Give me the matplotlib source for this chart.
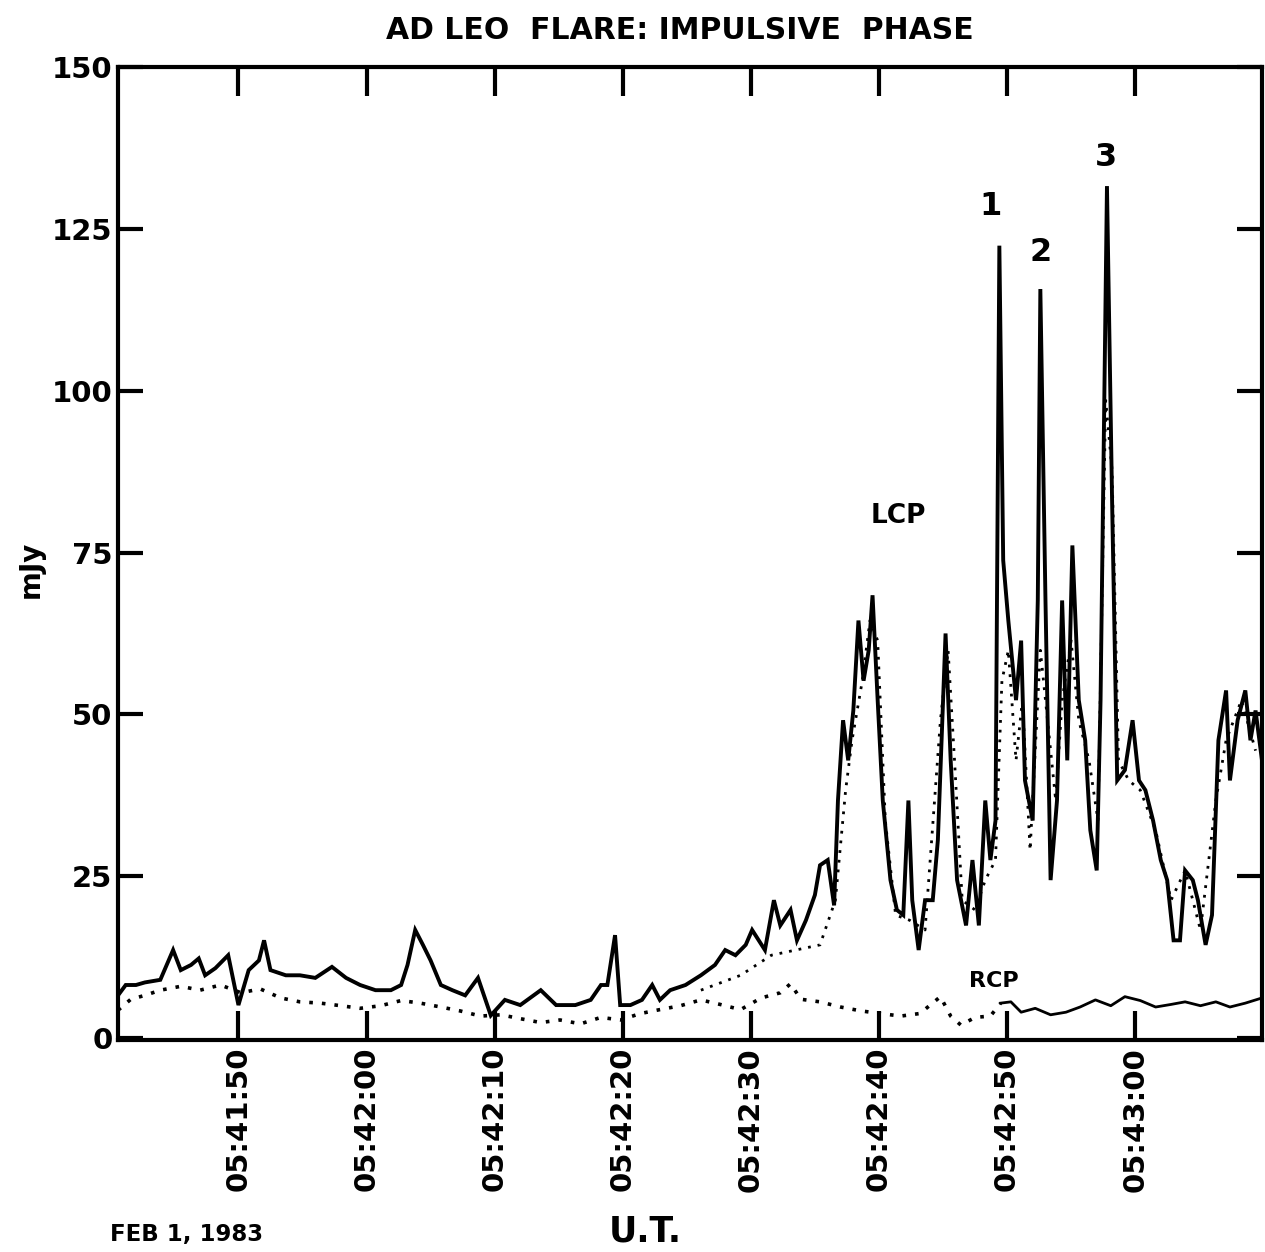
import matplotlib
matplotlib.use('Agg')
import matplotlib.pyplot as plt
from matplotlib.ticker import FuncFormatter

# time in seconds after 05:41:00 U.T., flux in mJy
lcp_t = [40.6, 41.2, 42.0, 42.7, 43.9, 44.9, 45.5, 46.3, 46.9, 47.4, 48.2, 49.2,
         50.0, 50.8, 51.6, 52.0, 52.5, 53.7, 54.8, 56.0, 57.3, 58.4, 59.5, 60.7,
         61.9, 62.7, 63.2, 63.8, 64.4, 65.0, 65.8, 66.7, 67.7, 68.7, 69.7, 70.8,
         72.0, 73.6, 74.8, 76.3, 77.5, 78.3, 78.8, 79.4, 79.8, 80.6, 81.5, 82.3,
         82.9, 83.7, 84.9, 86.1, 87.2, 88.0, 88.8, 89.6, 90.1, 91.1, 91.8, 92.3,
         93.1, 93.6, 94.3, 95.0, 95.4, 96.0, 96.5, 96.8, 97.2, 97.6, 98.0, 98.4,
         98.8, 99.2, 99.5, 99.9, 100.3, 100.9, 101.4, 101.9, 102.3, 102.6, 103.1,
         103.6, 104.2, 104.6, 105.2, 105.6, 106.1, 106.8, 107.3, 107.8, 108.3,
         108.7, 109.1, 109.4, 109.7, 110.1, 110.7, 111.1, 111.4, 112.0, 112.4,
         112.6, 113.0, 113.4, 113.9, 114.3, 114.7, 115.1, 115.6, 116.1, 116.5,
         117.0, 117.3, 117.8, 118.2, 118.6, 119.2, 119.8, 120.3, 120.8, 121.4,
         122.0, 122.5, 123.0, 123.5, 123.9, 124.5, 124.9, 125.5, 126.0, 126.5,
         127.1, 127.4, 128.0, 128.6, 129.0, 129.4, 129.9]
lcp_v = [6.6, 8.2, 8.2, 8.6, 9.0, 13.6, 10.5, 11.3, 12.3, 9.7, 10.8, 12.8,
         5.1, 10.5, 12.0, 15.1, 10.5, 9.7, 9.7, 9.3, 11.0, 9.3, 8.2, 7.4,
         7.4, 8.2, 11.3, 16.7, 14.4, 12.0, 8.2, 7.4, 6.6, 9.3, 3.5, 5.9,
         5.1, 7.4, 5.1, 5.1, 5.9, 8.2, 8.2, 15.9, 5.1, 5.1, 5.9, 8.2,
         5.9, 7.4, 8.2, 9.7, 11.3, 13.6, 12.8, 14.4, 16.7, 13.6, 21.3, 17.4,
         19.8, 15.1, 18.2, 22.1, 26.7, 27.5, 20.5, 36.7, 49.1, 42.9, 50.6, 64.5,
         55.2, 59.9, 68.4, 52.2, 36.7, 24.4, 19.8, 19.0, 36.7, 21.3, 13.6,
         21.3, 21.3, 30.6, 62.5, 42.9, 24.4, 17.4, 27.5, 17.4, 36.7,
         27.5, 33.6, 122.4, 73.8, 64.5, 52.2, 61.4, 39.8, 33.6, 67.6,
         115.7, 67.6, 24.4, 36.7, 67.6, 42.9, 76.1, 52.2, 46.0, 32.1,
         25.9, 52.2, 131.6, 83.0, 39.8, 41.4, 49.1, 39.8, 38.3, 33.6,
         27.5, 24.4, 15.1, 15.1, 25.9, 24.4, 21.3, 14.4, 19.0, 46.0,
         53.7, 39.8, 49.1, 53.7, 46.0, 50.6, 42.9]

# second (dotted) LCP trace during the flare
lcp2_t = [86.1, 89.2, 91.6, 95.4, 96.6, 97.4, 97.9, 98.7, 99.3, 99.9, 100.5,
          101.3, 102.4, 103.6, 104.8, 105.4, 105.9, 106.5, 107.5, 108.3, 109.1,
          109.6, 110.1, 110.7, 111.2, 111.8, 112.6, 113.0, 113.8, 114.3, 115.0,
          115.6, 116.4, 117.1, 117.7, 118.2, 118.7, 119.5, 120.4, 121.6, 122.8,
          123.9, 125.1, 126.3, 127.1, 128.3, 129.4]
lcp2_v = [7.4, 9.7, 12.8, 14.4, 21.3, 38.3, 46.0, 55.2, 64.5, 61.4, 33.6,
          19.0, 18.2, 16.7, 49.1, 59.9, 42.9, 21.3, 19.8, 24.4, 27.5,
          55.2, 59.9, 42.9, 52.2, 29.0, 59.9, 52.2, 36.7, 52.2, 61.4,
          49.1, 42.9, 33.6, 98.5, 87.7, 42.9, 39.8, 38.3, 32.1, 21.3,
          25.9, 16.7, 36.7, 46.0, 52.2, 44.4]

rcp_t = [40.6, 41.6, 42.7, 43.9, 45.5, 47.0, 48.6, 50.2, 51.7, 53.3, 54.8,
         56.4, 58.0, 59.5, 61.1, 62.7, 64.2, 65.8, 67.3, 68.9, 70.5, 72.0,
         73.6, 75.1, 76.7, 78.3, 79.8, 81.4, 82.9, 84.5, 86.1, 87.6, 89.2,
         90.8, 92.3, 93.1, 93.9, 95.4, 97.0, 98.6, 100.1, 101.7, 103.2, 104.8,
         105.6, 106.4, 107.5, 108.7, 109.5, 110.3, 111.1, 112.2, 113.4, 114.6,
         115.7, 116.9, 118.1, 119.2, 120.4, 121.6, 122.8, 123.9, 125.1, 126.3,
         127.4, 128.6, 129.9]
rcp_v = [4.3, 6.0, 6.6, 7.4, 8.0, 7.4, 8.2, 7.0, 7.6, 6.2, 5.6,
         5.4, 5.0, 4.6, 5.0, 5.8, 5.4, 4.8, 4.2, 3.4, 3.6, 3.0,
         2.4, 2.8, 2.2, 3.2, 2.8, 3.8, 4.4, 5.0, 5.9, 5.2, 4.4,
         6.2, 7.0, 8.4, 6.0, 5.6, 4.8, 4.2, 3.8, 3.4, 3.8, 6.4,
         3.4, 2.0, 3.2, 3.4, 5.4, 5.6, 4.0, 4.6, 3.6, 4.0,
         4.8, 5.9, 5.0, 6.4, 5.8, 4.8, 5.2, 5.6, 5.0, 5.6,
         4.8, 5.4, 6.2]

tick_secs = [50, 60, 70, 80, 90, 100, 110, 120]
y_ticks = [0, 25, 50, 75, 100, 125, 150]

plt.rcParams['font.family'] = 'DejaVu Sans'
plt.rcParams['font.weight'] = 'bold'

fig = plt.figure(figsize=(12.65, 12.52), dpi=100)
ax = fig.add_axes([0.0933, 0.1693, 0.9043, 0.7772])

ax.plot(lcp_t, lcp_v, color='black', lw=2.8, solid_joinstyle='miter')
ax.plot(lcp2_t, lcp2_v, color='black', lw=2.0, linestyle=(0, (1, 2.5)))

# RCP drawn dotted first, then solid after ~05:42:49
split = 48
ax.plot(rcp_t[:split + 1], rcp_v[:split + 1], color='black', lw=2.6,
        linestyle=(0, (1, 2.5)))
ax.plot(rcp_t[split:], rcp_v[split:], color='black', lw=2.0)

ax.set_xlim(40.6, 129.9)
ax.set_ylim(-0.3, 150)

ax.set_xticks(tick_secs)
ax.xaxis.set_major_formatter(FuncFormatter(
    lambda s, p: '05:%02d:%02d' % (41 + int(s) // 60, int(s) % 60)))
ax.set_yticks(y_ticks)

ax.tick_params(axis='x', which='both', direction='in', length=21, width=3,
               top=True, labelrotation=90, labelsize=21, pad=5)
ax.tick_params(axis='y', which='both', direction='in', length=18, width=3,
               right=True, labelsize=21, pad=4)
for lab in ax.get_xticklabels() + ax.get_yticklabels():
    lab.set_fontweight('bold')
for sp in ax.spines.values():
    sp.set_linewidth(3)

ax.text(101.5, 80.7, 'LCP', fontsize=19, fontweight='bold', ha='center', va='center')
ax.text(109.0, 8.8, 'RCP', fontsize=16, fontweight='bold', ha='center', va='center')
ax.text(108.7, 128.5, '1', fontsize=23, fontweight='bold', ha='center', va='center')
ax.text(112.6, 121.3, '2', fontsize=23, fontweight='bold', ha='center', va='center')
ax.text(117.7, 136.0, '3', fontsize=23, fontweight='bold', ha='center', va='center')

fig.text(0.5375, 0.976, 'AD LEO  FLARE: IMPULSIVE  PHASE', fontsize=21.5,
         fontweight='bold', ha='center', va='center')
fig.text(0.024, 0.545, 'mJy', fontsize=20, fontweight='bold', rotation=90,
         ha='center', va='center')
fig.text(0.087, 0.0136, 'FEB 1, 1983', fontsize=16.5, fontweight='bold',
         ha='left', va='center')
fig.text(0.51, 0.016, 'U.T.', fontsize=25, fontweight='bold',
         ha='center', va='center')

fig.savefig('out.png', dpi=100)
